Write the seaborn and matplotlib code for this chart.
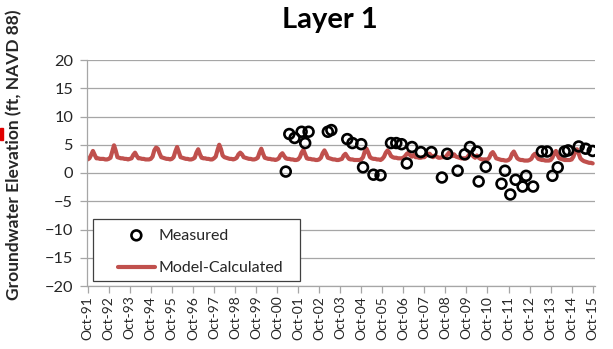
import numpy as np
import pandas as pd
import matplotlib
matplotlib.use("Agg")
import matplotlib.pyplot as plt
from matplotlib.patches import Rectangle
import seaborn as sns

# ---------------- data ----------------
title = "Layer 1"
y_label = "Groundwater Elevation (ft, NAVD 88)"
legend_measured = "Measured"
legend_model = "Model-Calculated"

# Model-calculated, monthly, one row per water year (Oct..Sep), plus Oct-15
model_values = [
    2.4, 2.6, 3.2, 3.9, 3.2, 2.6, 2.6, 2.5, 2.5, 2.5, 2.4, 2.4,
    2.5, 2.7, 3.8, 4.9, 3.9, 2.8, 2.7, 2.6, 2.6, 2.5, 2.5, 2.4,
    2.5, 2.6, 3.2, 3.6, 3.0, 2.6, 2.6, 2.5, 2.5, 2.4, 2.4, 2.4,
    2.5, 2.9, 4.0, 4.5, 4.3, 3.5, 2.8, 2.7, 2.6, 2.5, 2.5, 2.4,
    2.5, 2.8, 3.8, 4.6, 3.7, 2.8, 2.7, 2.6, 2.5, 2.5, 2.4, 2.4,
    2.5, 2.7, 3.6, 4.2, 3.3, 2.7, 2.6, 2.6, 2.5, 2.5, 2.4, 2.4,
    2.6, 2.9, 4.0, 5.0, 4.2, 3.1, 2.8, 2.7, 2.6, 2.5, 2.5, 2.4,
    2.5, 2.7, 3.3, 3.6, 3.3, 2.8, 2.7, 2.6, 2.5, 2.5, 2.4, 2.4,
    2.5, 2.7, 3.6, 4.3, 3.4, 2.7, 2.6, 2.5, 2.5, 2.4, 2.4, 2.3,
    2.4, 2.6, 3.2, 3.5, 3.0, 2.6, 2.5, 2.5, 2.4, 2.4, 2.3, 2.3,
    2.4, 2.8, 3.6, 4.1, 3.3, 2.6, 2.5, 2.5, 2.4, 2.4, 2.3, 2.3,
    2.4, 2.7, 3.5, 4.0, 3.4, 2.7, 2.6, 2.5, 2.4, 2.4, 2.3, 2.3,
    2.4, 2.5, 3.1, 3.4, 2.9, 2.5, 2.4, 2.4, 2.3, 2.3, 2.3, 2.3,
    2.4, 2.8, 3.8, 4.3, 3.6, 2.8, 2.6, 2.5, 2.5, 2.4, 2.4, 2.3,
    2.5, 2.9, 3.6, 4.0, 3.6, 3.0, 2.8, 2.7, 2.7, 2.6, 2.6, 2.6,
    2.7, 3.0, 3.4, 3.6, 3.1, 2.9, 3.2, 2.8, 2.8, 2.7, 2.7, 2.8,
    2.8, 3.1, 3.4, 3.4, 3.0, 2.8, 3.1, 2.9, 2.7, 2.7, 2.8, 2.8,
    2.8, 3.2, 3.6, 3.4, 3.0, 3.3, 2.9, 2.8, 2.7, 2.6, 2.6, 2.6,
    2.6, 3.0, 3.5, 3.3, 2.9, 2.7, 3.1, 2.7, 2.5, 2.4, 2.4, 2.4,
    2.4, 2.7, 3.4, 3.7, 3.2, 2.6, 2.5, 2.4, 2.3, 2.3, 2.2, 2.2,
    2.3, 2.6, 3.4, 3.8, 3.2, 2.6, 2.4, 2.3, 2.3, 2.2, 2.2, 2.2,
    2.3, 2.5, 3.1, 3.4, 2.9, 2.5, 2.4, 2.3, 2.3, 2.2, 2.2, 2.2,
    2.3, 2.7, 3.5, 3.9, 3.1, 2.6, 2.5, 2.4, 2.3, 2.3, 2.3, 2.3,
    2.4, 2.9, 3.8, 4.2, 3.4, 2.6, 2.3, 2.1, 2.0, 1.9, 1.8, 1.8,
    1.7,
]
model_dates = pd.date_range("1991-10-01", "2015-10-01", freq="MS")

measured_dates = [
    "2001-03", "2001-05", "2001-08", "2001-12", "2002-02", "2002-04",
    "2003-03", "2003-05", "2004-02", "2004-05", "2004-10", "2004-11",
    "2005-05", "2005-09", "2006-03", "2006-06", "2006-09", "2006-12",
    "2007-03", "2007-08", "2008-02", "2008-08", "2008-11", "2009-05",
    "2009-09", "2009-12", "2010-04", "2010-05", "2010-09", "2011-06",
    "2011-08", "2011-11", "2012-02", "2012-06", "2012-08", "2012-12",
    "2013-05", "2013-08", "2013-11", "2014-02", "2014-06", "2014-08",
    "2015-02", "2015-06", "2015-10",
]
measured_values = [
    0.25, 6.9, 6.2, 7.3, 5.3, 7.3,
    7.3, 7.6, 6.0, 5.3, 5.1, 1.0,
    -0.3, -0.4, 5.3, 5.3, 5.1, 1.7,
    4.6, 3.7, 3.7, -0.8, 3.4, 0.4,
    3.3, 4.6, 3.8, -1.5, 1.1, -1.9,
    0.4, -3.8, -1.2, -2.4, -0.5, -2.4,
    3.8, 3.8, -0.5, 1.0, 3.8, 4.0,
    4.7, 4.3, 3.9,
]

tick_years = list(range(1991, 2016))
tick_labels = [f"Oct-{y % 100:02d}" for y in tick_years]
y_ticks = [20, 15, 10, 5, 0, -5, -10, -15, -20]

# ---------------- plot ----------------
sns.set_theme(style="white")
plt.rcParams["font.family"] = ["Lato", "DejaVu Sans"]

model_df = pd.DataFrame({"date": model_dates, "value": model_values})
meas_df = pd.DataFrame({"date": pd.to_datetime(measured_dates), "value": measured_values})

fig = plt.figure(figsize=(6.13, 3.49), dpi=100)
ax = fig.add_axes([87 / 613, 1 - 286 / 349, 508 / 613, 226 / 349])

red = "#C0504D"
sns.lineplot(data=model_df, x="date", y="value", ax=ax, color=red, linewidth=3.0,
             label=legend_model, zorder=2)
sns.scatterplot(data=meas_df, x="date", y="value", ax=ax, marker="o", s=50,
                facecolor="none", edgecolor="black", linewidth=1.9,
                label=legend_measured, zorder=3)

ax.set_ylim(-20, 20)
ax.set_yticks(y_ticks)
ax.set_xlim(pd.Timestamp("1991-09-20"), pd.Timestamp("2015-11-10"))
tick_pos = [pd.Timestamp(f"{y}-10-01") for y in tick_years]
ax.set_xticks(tick_pos)
ax.set_xticklabels(tick_labels, rotation=90)

ax.yaxis.grid(True, color="#A6A6A6", linewidth=0.9)
ax.xaxis.grid(False)
for s in ["top", "right"]:
    ax.spines[s].set_visible(False)
for s in ["left", "bottom"]:
    ax.spines[s].set_color("#A6A6A6")
    ax.spines[s].set_linewidth(0.9)

ax.tick_params(axis="both", which="major", direction="out", length=5, width=0.9,
               color="#A6A6A6", labelcolor="#262626")
ax.tick_params(axis="y", labelsize=11.8, pad=5)
ax.tick_params(axis="x", labelsize=10, pad=2)
ax.tick_params(bottom=True, left=True)

ax.set_xlabel("")
ax.set_ylabel(y_label, fontsize=12.5, fontweight="bold", color="#262626")
ax.yaxis.set_label_coords(-0.127, 0.58)

fig.text(0.538, 1 - 20 / 349, title, ha="center", va="center",
         fontsize=21, fontweight="bold", color="black")

# legend: frame drawn as a box, entries placed inside
ax.add_patch(Rectangle((0.0118, 0.022), 0.407, 0.274, transform=ax.transAxes,
                       facecolor="white", edgecolor="#404040", linewidth=0.9,
                       zorder=4))
handles, labels = ax.get_legend_handles_labels()
order = [labels.index(legend_measured), labels.index(legend_model)]
leg = ax.legend([handles[i] for i in order], [labels[i] for i in order],
                loc="upper left", bbox_to_anchor=(0.061, 0.255),
                frameon=False, fontsize=11.5, borderpad=0, labelspacing=1.15,
                handlelength=2.3, handletextpad=0.25, borderaxespad=0)
leg.set_zorder(5)

fig.add_artist(Rectangle((0, 1 - 140 / 349), 3 / 613, 12 / 349,
                         transform=fig.transFigure, color="#E00000"))

fig.savefig("out.png", dpi=100)
